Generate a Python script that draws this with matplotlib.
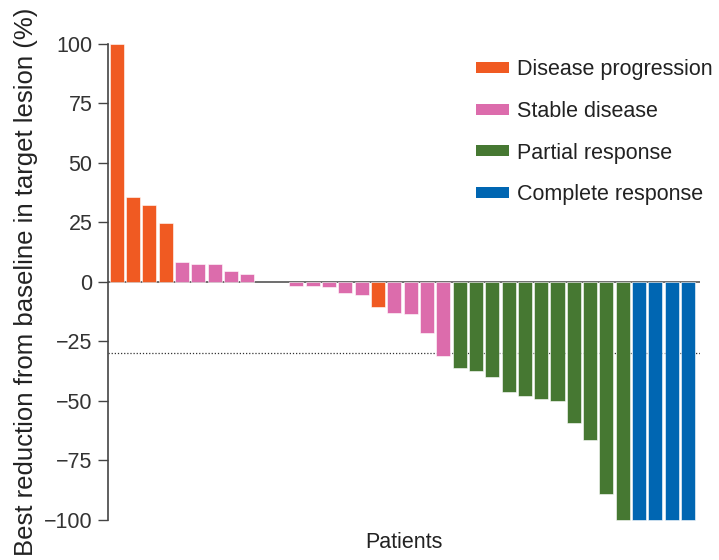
import matplotlib
matplotlib.use("Agg")
import matplotlib.pyplot as plt
from matplotlib.patches import Patch

# best change from baseline per patient (%), sorted as in the figure
values = [100, 35.6, 32.0, 24.8, 8.2, 7.2, 7.2, 4.3, 3.1, 0, 0,
          -1.8, -1.9, -2.4, -4.8, -5.6, -10.7, -13.1, -13.5, -21.7, -31.4,
          -36.5, -37.7, -40.2, -46.3, -48.2, -49.4, -50.0, -59.4, -66.7, -89.2, -100,
          -100, -100, -100, -100]
response = ["PD", "PD", "PD", "PD", "SD", "SD", "SD", "SD", "SD", "SD", "SD",
            "SD", "SD", "SD", "SD", "SD", "PD", "SD", "SD", "SD", "SD",
            "PR", "PR", "PR", "PR", "PR", "PR", "PR", "PR", "PR", "PR", "PR",
            "CR", "CR", "CR", "CR"]
categories = ["PD", "SD", "PR", "CR"]
labels = ["Disease progression", "Stable disease", "Partial response", "Complete response"]
colors = {"PD": "#F05A22", "SD": "#DC6CAC", "PR": "#467832", "CR": "#0066B2"}
threshold = -30
yticks = [100, 75, 50, 25, 0, -25, -50, -75, -100]

plt.rcParams["font.family"] = ["Liberation Sans", "DejaVu Sans"]

fig = plt.figure(figsize=(7.19, 5.60), dpi=100)
ax = fig.add_axes([0.150, 0.0696, 0.824, 0.855])

x = list(range(len(values)))
bar_colors = [colors[r] for r in response]
ax.bar(x, values, width=0.86, color=bar_colors, edgecolor="white",
       linewidth=[0.4 if v != 0 else 0 for v in values])

ax.axhline(0, color="#555555", lw=1.2, zorder=0)
ax.axhline(threshold, color="#333333", lw=0.9, ls=(0, (1, 1.5)), zorder=0)

ax.set_xlim(-0.55, len(values) - 0.25)
ax.set_ylim(-100.6, 100.6)
ax.set_yticks(yticks)
ax.set_yticklabels([str(t).replace("-", "\u2212") for t in yticks])
ax.tick_params(axis="y", length=7, width=1, color="#444444", labelsize=15.5,
               labelcolor="#333333", pad=4)
ax.set_xticks([])

for s in ["top", "right", "bottom"]:
    ax.spines[s].set_visible(False)
ax.spines["left"].set_color("#444444")
ax.spines["left"].set_linewidth(1.2)
ax.spines["left"].set_bounds(-100, 100)

ax.set_ylabel("Best reduction from baseline in target lesion (%)", fontsize=18.5,
              color="#222222", labelpad=4)
ax.set_xlabel("Patients", fontsize=15.5, color="#222222", labelpad=8)

handles = [Patch(facecolor=colors[c], edgecolor="none") for c in categories]
ax.legend(handles, labels, loc="upper right", bbox_to_anchor=(1.054, 1.005),
          frameon=False, fontsize=15.5, handlelength=1.5, handleheight=0.4,
          handletextpad=0.4, labelspacing=0.96, labelcolor="#222222")

fig.savefig("out.png", dpi=100)
